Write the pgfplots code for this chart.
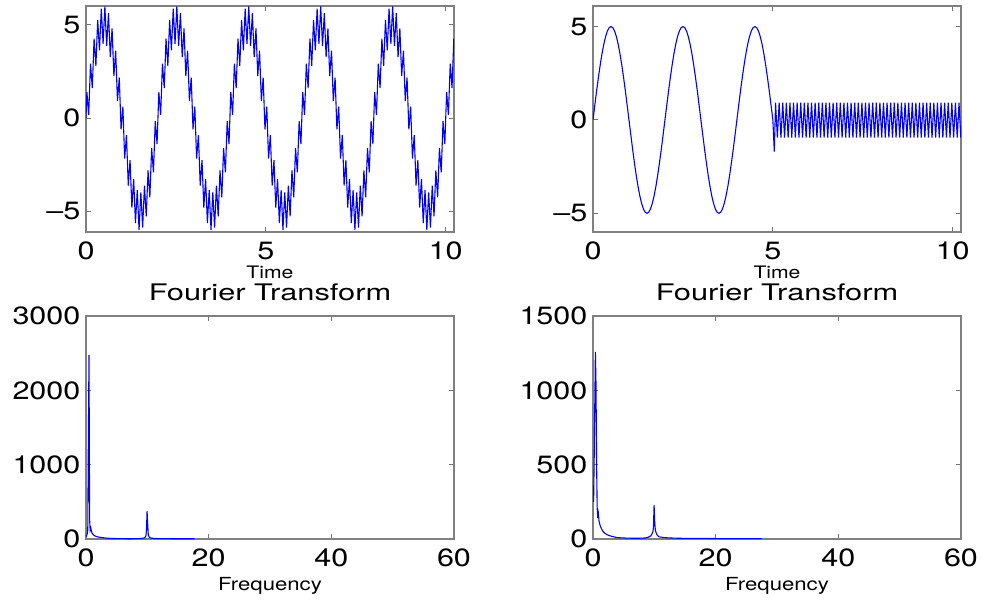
\documentclass[border=0pt]{standalone}
\usepackage{fontspec}
\setmainfont{TeX Gyre Heros}
\newfontfamily\tickfont{TeX Gyre Heros}[FakeStretch=1.22]
\newfontfamily\labfont{TeX Gyre Heros}[FakeStretch=1.23]
\newfontfamily\titfont{TeX Gyre Heros}[FakeStretch=1.35]
\usepackage{pgfplots}
\pgfplotsset{compat=1.18}
\definecolor{mblue}{rgb}{0.42,0.42,1}

\pgfplotsset{
  mat/.style={
    scale only axis, width=184pt, no markers,
    axis line style={black!50, line width=0.6pt},
    tick style={black!55, line width=0.5pt},
    major tick length=2.5pt,
    tick align=inside, tick pos=both,
    /pgf/number format/assume math mode=true,
    /pgf/number format/1000 sep={},
    scaled ticks=false,
    tick label style={font=\tickfont\fontsize{12.5}{13}\selectfont},
    xticklabel style={yshift=-1.5pt},
    yticklabel style={xshift=0.7pt},
    xlabel style={at={(axis description cs:0.5,0)}, anchor=base},
    title style={at={(axis description cs:0.5,1)}, anchor=base, yshift=2pt,
      font=\titfont\fontsize{11.4}{12}\selectfont},
    every axis plot/.append style={mblue, line width=0.55pt},
  },
  timeax/.style={mat, height=113pt, xmin=0, xmax=10.23,
    xtick={0,5,10}, ytick={-5,0,5}, yticklabels={–5,0,5},
    xlabel={Time},
    xlabel style={yshift=-23.5pt, font=\labfont\fontsize{8.6}{9}\selectfont}},
  freqax/.style={mat, height=111.5pt, xmin=0, xmax=60, ymin=0,
    xtick={0,20,40,60}, title={Fourier Transform},
    xlabel={Frequency},
    xlabel style={yshift=-25.5pt, font=\labfont\fontsize{9}{10}\selectfont}},
}

\begin{document}
\begin{tikzpicture}
\useasboundingbox (-43pt,3pt) rectangle (447.5pt,-297pt);

% slow sine plus 10 Hz ripple
\begin{axis}[timeax, at={(0pt,0pt)}, anchor=north west, ymin=-6.1, ymax=6]
\addplot coordinates {
(0,0)
(0.025,1.39) (0.075,0.17) (0.125,2.91) (0.175,1.61) (0.225,4.25) (0.275,2.80) (0.325,5.26) (0.375,3.62) (0.425,5.86) (0.475,3.98)
(0.525,5.98) (0.575,3.86) (0.625,5.62) (0.675,3.26) (0.725,4.80) (0.775,2.25) (0.825,3.61) (0.875,0.91) (0.925,2.17) (0.975,-0.61)
(1.025,0.61) (1.075,-2.17) (1.125,-0.91) (1.175,-3.61) (1.225,-2.25) (1.275,-4.80) (1.325,-3.26) (1.375,-5.62) (1.425,-3.86) (1.475,-5.98)
(1.525,-3.98) (1.575,-5.86) (1.625,-3.62) (1.675,-5.26) (1.725,-2.80) (1.775,-4.25) (1.825,-1.61) (1.875,-2.91) (1.925,-0.17) (1.975,-1.39)
(2.025,1.39) (2.075,0.17) (2.125,2.91) (2.175,1.61) (2.225,4.25) (2.275,2.80) (2.325,5.26) (2.375,3.62) (2.425,5.86) (2.475,3.98)
(2.525,5.98) (2.575,3.86) (2.625,5.62) (2.675,3.26) (2.725,4.80) (2.775,2.25) (2.825,3.61) (2.875,0.91) (2.925,2.17) (2.975,-0.61)
(3.025,0.61) (3.075,-2.17) (3.125,-0.91) (3.175,-3.61) (3.225,-2.25) (3.275,-4.80) (3.325,-3.26) (3.375,-5.62) (3.425,-3.86) (3.475,-5.98)
(3.525,-3.98) (3.575,-5.86) (3.625,-3.62) (3.675,-5.26) (3.725,-2.80) (3.775,-4.25) (3.825,-1.61) (3.875,-2.91) (3.925,-0.17) (3.975,-1.39)
(4.025,1.39) (4.075,0.17) (4.125,2.91) (4.175,1.61) (4.225,4.25) (4.275,2.80) (4.325,5.26) (4.375,3.62) (4.425,5.86) (4.475,3.98)
(4.525,5.98) (4.575,3.86) (4.625,5.62) (4.675,3.26) (4.725,4.80) (4.775,2.25) (4.825,3.61) (4.875,0.91) (4.925,2.17) (4.975,-0.61)
(5.025,0.61) (5.075,-2.17) (5.125,-0.91) (5.175,-3.61) (5.225,-2.25) (5.275,-4.80) (5.325,-3.26) (5.375,-5.62) (5.425,-3.86) (5.475,-5.98)
(5.525,-3.98) (5.575,-5.86) (5.625,-3.62) (5.675,-5.26) (5.725,-2.80) (5.775,-4.25) (5.825,-1.61) (5.875,-2.91) (5.925,-0.17) (5.975,-1.39)
(6.025,1.39) (6.075,0.17) (6.125,2.91) (6.175,1.61) (6.225,4.25) (6.275,2.80) (6.325,5.26) (6.375,3.62) (6.425,5.86) (6.475,3.98)
(6.525,5.98) (6.575,3.86) (6.625,5.62) (6.675,3.26) (6.725,4.80) (6.775,2.25) (6.825,3.61) (6.875,0.91) (6.925,2.17) (6.975,-0.61)
(7.025,0.61) (7.075,-2.17) (7.125,-0.91) (7.175,-3.61) (7.225,-2.25) (7.275,-4.80) (7.325,-3.26) (7.375,-5.62) (7.425,-3.86) (7.475,-5.98)
(7.525,-3.98) (7.575,-5.86) (7.625,-3.62) (7.675,-5.26) (7.725,-2.80) (7.775,-4.25) (7.825,-1.61) (7.875,-2.91) (7.925,-0.17) (7.975,-1.39)
(8.025,1.39) (8.075,0.17) (8.125,2.91) (8.175,1.61) (8.225,4.25) (8.275,2.80) (8.325,5.26) (8.375,3.62) (8.425,5.86) (8.475,3.98)
(8.525,5.98) (8.575,3.86) (8.625,5.62) (8.675,3.26) (8.725,4.80) (8.775,2.25) (8.825,3.61) (8.875,0.91) (8.925,2.17) (8.975,-0.61)
(9.025,0.61) (9.075,-2.17) (9.125,-0.91) (9.175,-3.61) (9.225,-2.25) (9.275,-4.80) (9.325,-3.26) (9.375,-5.62) (9.425,-3.86) (9.475,-5.98)
(9.525,-3.98) (9.575,-5.86) (9.625,-3.62) (9.675,-5.26) (9.725,-2.80) (9.775,-4.25) (9.825,-1.61) (9.875,-2.91) (9.925,-0.17) (9.975,-1.39)
(10.025,1.39) (10.075,0.17) (10.125,2.91) (10.175,1.61) (10.225,4.25)
};
\end{axis}

% slow sine, then 10 Hz only
\begin{axis}[timeax, at={(253.5pt,0pt)}, anchor=north west, ymin=-6, ymax=6.1]
\addplot coordinates {
(0,0) (0.05,0.78) (0.1,1.55) (0.15,2.27) (0.2,2.94) (0.25,3.54) (0.3,4.05) (0.35,4.46) (0.4,4.76) (0.45,4.94)
(0.5,5.00) (0.55,4.94) (0.6,4.76) (0.65,4.46) (0.7,4.05) (0.75,3.54) (0.8,2.94) (0.85,2.27) (0.9,1.55) (0.95,0.78)
(1,0) (1.05,-0.78) (1.1,-1.55) (1.15,-2.27) (1.2,-2.94) (1.25,-3.54) (1.3,-4.05) (1.35,-4.46) (1.4,-4.76) (1.45,-4.94)
(1.5,-5.00) (1.55,-4.94) (1.6,-4.76) (1.65,-4.46) (1.7,-4.05) (1.75,-3.54) (1.8,-2.94) (1.85,-2.27) (1.9,-1.55) (1.95,-0.78)
(2,0) (2.05,0.78) (2.1,1.55) (2.15,2.27) (2.2,2.94) (2.25,3.54) (2.3,4.05) (2.35,4.46) (2.4,4.76) (2.45,4.94)
(2.5,5.00) (2.55,4.94) (2.6,4.76) (2.65,4.46) (2.7,4.05) (2.75,3.54) (2.8,2.94) (2.85,2.27) (2.9,1.55) (2.95,0.78)
(3,0) (3.05,-0.78) (3.1,-1.55) (3.15,-2.27) (3.2,-2.94) (3.25,-3.54) (3.3,-4.05) (3.35,-4.46) (3.4,-4.76) (3.45,-4.94)
(3.5,-5.00) (3.55,-4.94) (3.6,-4.76) (3.65,-4.46) (3.7,-4.05) (3.75,-3.54) (3.8,-2.94) (3.85,-2.27) (3.9,-1.55) (3.95,-0.78)
(4,0) (4.05,0.78) (4.1,1.55) (4.15,2.27) (4.2,2.94) (4.25,3.54) (4.3,4.05) (4.35,4.46) (4.4,4.76) (4.45,4.94)
(4.5,5.00) (4.55,4.94) (4.6,4.76) (4.65,4.46) (4.7,4.05) (4.75,3.54) (4.8,2.94) (4.85,2.27) (4.9,1.55) (4.95,0.78)
(5,0) (5.04,-1.7)
(5.075,0.92) (5.125,-0.95) (5.175,0.92) (5.225,-0.95) (5.275,0.92) (5.325,-0.95) (5.375,0.92) (5.425,-0.95) (5.475,0.92) (5.525,-0.95)
(5.575,0.92) (5.625,-0.95) (5.675,0.92) (5.725,-0.95) (5.775,0.92) (5.825,-0.95) (5.875,0.92) (5.925,-0.95) (5.975,0.92) (6.025,-0.95)
(6.075,0.92) (6.125,-0.95) (6.175,0.92) (6.225,-0.95) (6.275,0.92) (6.325,-0.95) (6.375,0.92) (6.425,-0.95) (6.475,0.92) (6.525,-0.95)
(6.575,0.92) (6.625,-0.95) (6.675,0.92) (6.725,-0.95) (6.775,0.92) (6.825,-0.95) (6.875,0.92) (6.925,-0.95) (6.975,0.92) (7.025,-0.95)
(7.075,0.92) (7.125,-0.95) (7.175,0.92) (7.225,-0.95) (7.275,0.92) (7.325,-0.95) (7.375,0.92) (7.425,-0.95) (7.475,0.92) (7.525,-0.95)
(7.575,0.92) (7.625,-0.95) (7.675,0.92) (7.725,-0.95) (7.775,0.92) (7.825,-0.95) (7.875,0.92) (7.925,-0.95) (7.975,0.92) (8.025,-0.95)
(8.075,0.92) (8.125,-0.95) (8.175,0.92) (8.225,-0.95) (8.275,0.92) (8.325,-0.95) (8.375,0.92) (8.425,-0.95) (8.475,0.92) (8.525,-0.95)
(8.575,0.92) (8.625,-0.95) (8.675,0.92) (8.725,-0.95) (8.775,0.92) (8.825,-0.95) (8.875,0.92) (8.925,-0.95) (8.975,0.92) (9.025,-0.95)
(9.075,0.92) (9.125,-0.95) (9.175,0.92) (9.225,-0.95) (9.275,0.92) (9.325,-0.95) (9.375,0.92) (9.425,-0.95) (9.475,0.92) (9.525,-0.95)
(9.575,0.92) (9.625,-0.95) (9.675,0.92) (9.725,-0.95) (9.775,0.92) (9.825,-0.95) (9.875,0.92) (9.925,-0.95) (9.975,0.92) (10.025,-0.95)
(10.075,0.92) (10.125,-0.95) (10.175,0.92) (10.225,-0.95)
};
\end{axis}

% spectrum of the first signal
\begin{axis}[freqax, at={(0pt,-155pt)}, anchor=north west, ymax=3000,
  ytick={0,1000,2000,3000}]
\addplot coordinates {
(0,30) (0.1,45) (0.2,70) (0.29,120) (0.39,1400) (0.49,2475) (0.59,260) (0.68,120) (0.78,150) (0.88,110)
(0.98,80) (1.17,60) (1.37,45) (1.56,38) (1.76,32) (1.95,28) (2.34,22) (2.73,18) (3.13,14) (3.52,11)
(3.91,9) (4.5,7) (5.5,5) (6.5,4) (7.5,4) (8.5,5) (9.0,8) (9.38,12) (9.57,18) (9.77,40)
(9.86,120) (9.96,375) (10.06,200) (10.16,50) (10.35,22) (10.55,14) (11,8) (12,5) (14,4) (16,3) (17.7,3)
};
\end{axis}

% spectrum of the second signal
\begin{axis}[freqax, at={(253.5pt,-155pt)}, anchor=north west, ymax=1500,
  ytick={0,500,1000,1500}]
\addplot coordinates {
(0,360) (0.1,250) (0.2,560) (0.29,900) (0.39,1258) (0.49,1043) (0.59,500) (0.68,210) (0.78,140) (0.88,170)
(0.98,120) (1.17,90) (1.37,70) (1.56,55) (1.76,45) (1.95,38) (2.34,28) (2.73,22) (3.13,17) (3.52,13)
(3.91,10) (4.5,8) (5.5,6) (6.5,5) (7.5,5) (8.5,7) (9.0,12) (9.38,20) (9.57,30) (9.77,50)
(9.86,80) (9.96,229) (10.06,120) (10.16,60) (10.35,35) (10.55,22) (10.75,15) (11.5,10) (12.5,7) (14,5)
(16,4) (18,4) (20,3) (22,3) (24,3) (26,3) (27.5,3)
};
\end{axis}
\end{tikzpicture}
\end{document}
